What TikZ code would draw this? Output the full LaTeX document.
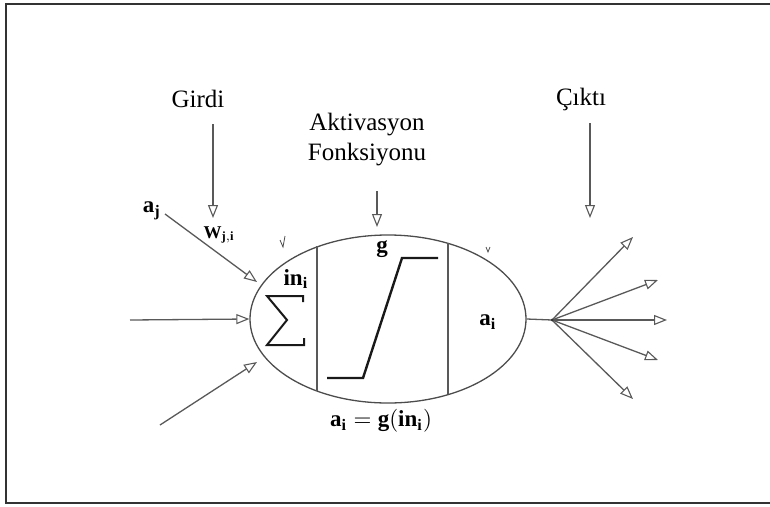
\documentclass[tikz,border=0pt]{standalone}
\usepackage{fontspec}
\setmainfont{Liberation Serif}
\usetikzlibrary{arrows.meta,shapes.geometric}
\newcommand{\mylabelmath}[1]{\scalebox{2.3}{$#1$}}
\begin{document}
\begin{tikzpicture}[x=1pt,y=-1pt,
  wire/.style={draw=black!65, line width=1.3pt},
  arr/.style={wire, -{Triangle[open, length=13pt, width=10pt, line width=1.1pt]}},
  lbl/.style={font=\fontsize{25}{30}\selectfont, align=center, inner sep=0pt},
  mth/.style={inner sep=0pt}]
\useasboundingbox (0,0) rectangle (770,506);
% frame
\draw[line width=2pt, black!80] (772,4) -- (6,4) -- (6,503) -- (772,503);
% neuron
\node[ellipse, draw=black!70, line width=1.3pt, minimum width=276pt, minimum height=168pt, inner sep=0pt] (neuron) at (388,319) {};
\coordinate (l1t) at (317,246); \coordinate (l1b) at (317,391);
\coordinate (l2t) at (448,243); \coordinate (l2b) at (448,394);
\draw[wire] (l1t) -- (l1b);
\draw[wire] (l2t) -- (l2b);
% ramp
\draw[line width=2.4pt, black!90] (327,378) -- (363,378) -- (402,258) -- (438,258);
% summation sign
\draw[line width=2pt, black!90, line join=miter] (303,302) -- (303,296) -- (267,296) -- (287,320) -- (267,345) -- (304,345) -- (304,338);
% inner labels
\node[mth] (in) at (296,279) {\mylabelmath{\mathbf{in}_{\mathbf{i}}}};
\node[mth] (g) at (382,249) {\mylabelmath{\mathbf{g}}};
\node[mth] (ai) at (488,322) {\mylabelmath{\mathbf{a}_{\mathbf{i}}}};
\node[mth] (eq) at (381,421) {\mylabelmath{\mathbf{a}_{\mathbf{i}} = \mathbf{g}(\mathbf{in}_{\mathbf{i}})}};
% small tick marks
\draw[black!70, line width=0.8pt] (280,240) -- (283,247) -- (285,236);
\draw[black!70, line width=0.8pt] (486,247) -- (488,252) -- (490,247);
% top labels
\node[lbl] (girdi) at (198,99) {Girdi};
\node[lbl] (akt) at (367,140) {Aktivasyon\\Fonksiyonu};
\node[lbl] (cikti) at (581,99) {Çıktı};
\coordinate (girdiA) at (213,124); \coordinate (girdiB) at (213,218);
\coordinate (aktA) at (377,191); \coordinate (aktB) at (377,227);
\coordinate (cikA) at (590,123); \coordinate (cikB) at (590,218);
\draw[arr] (girdiA) -- (girdiB);
\draw[arr] (aktA) -- (aktB);
\draw[arr] (cikA) -- (cikB);
% inputs
\node[mth] (aj) at (152,211) {\mylabelmath{\mathbf{a}_{\mathbf{j}}}};
\node[mth] (w) at (219,235) {\scalebox{1.8}{$\mathbf{W}_{\mathbf{j,i}}$}};
\coordinate (in1) at (165,214); \coordinate (in1t) at (257,282);
\coordinate (in2) at (130,320);
\coordinate (in3) at (160,425); \coordinate (in3t) at (257,362);
\draw[arr] (in1) -- (in1t);
\draw[arr] (in2) -- (neuron.west);
\draw[arr] (in3) -- (in3t);
% outputs
\coordinate (hub) at (552,320);
\draw[wire] (neuron.east) -- (hub);
\coordinate (o1) at (633,237);
\coordinate (o2) at (658,280);
\coordinate (o3) at (667,320);
\coordinate (o4) at (658,360);
\coordinate (o5) at (633,399);
\foreach \o in {o1,o2,o3,o4,o5} \draw[arr] (hub) -- (\o);
\fill[black!80] (hub) circle (1.5pt);
\end{tikzpicture}
\end{document}
